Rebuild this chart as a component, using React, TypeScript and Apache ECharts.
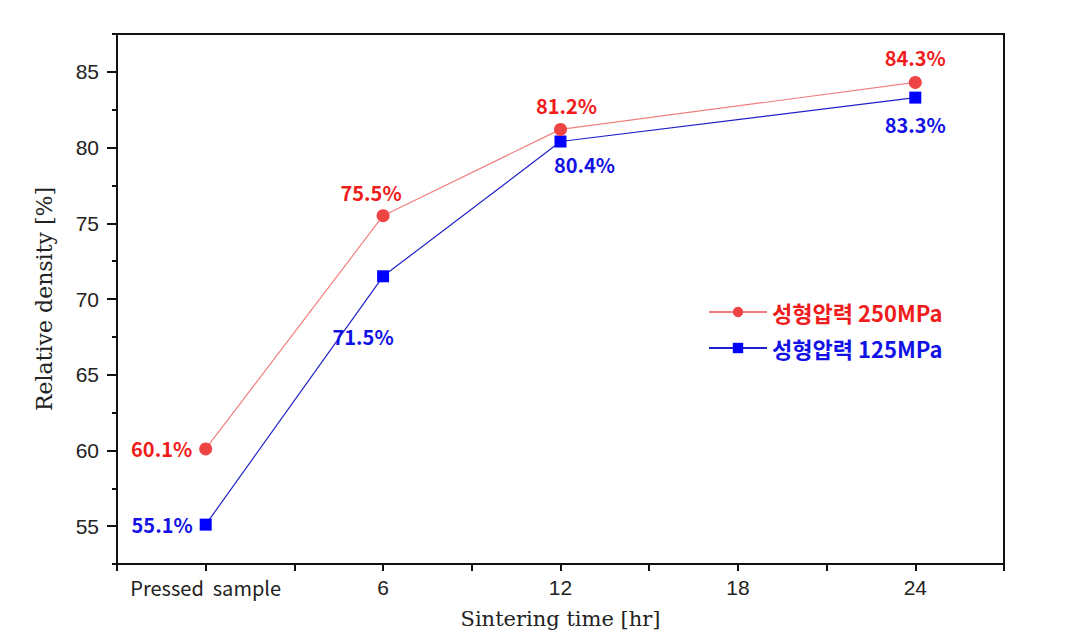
import React, { useEffect, useRef } from "react";
import * as echarts from "echarts";

const hours = [0, 6, 12, 24];
const series250 = [60.1, 75.5, 81.2, 84.3];
const series125 = [55.1, 71.5, 80.4, 83.3];
const seriesNames = ["성형압력 250MPa", "성형압력 125MPa"];
const xTickLabels: Record<number, string> = { 0: "{p|Pressed  sample}", 6: "6", 12: "12", 18: "18", 24: "24" };
const xLabelValues = [0, 6, 12, 18, 24];
const yMajor = [55, 60, 65, 70, 75, 80, 85];
const yMinor = [52.5, 57.5, 62.5, 67.5, 72.5, 77.5, 82.5, 87.5];
const xTicks = [-3, 0, 3, 6, 9, 12, 15, 18, 21, 24, 27];

const RED_TEXT = "#f01c1c";
const BLUE_TEXT = "#1212e6";

const labels250 = [
  { position: "left", distance: 7 },
  { position: "top", distance: 7, offset: [-12, 0] },
  { position: "top", distance: 7, offset: [6, 0] },
  { position: "top", distance: 8, offset: [0, 0] },
];
const labels125 = [
  { position: "left", distance: 7 },
  { position: "bottom", distance: 44, offset: [-20, 0] },
  { position: "bottom", distance: 7, offset: [24, 0] },
  { position: "bottom", distance: 11, offset: [0, 0] },
];

export default function App() {
  const ref = useRef<HTMLDivElement>(null);
  useEffect(() => {
    if (!ref.current) return;
    const chart = echarts.init(ref.current, null, { renderer: "svg" });
    const labelFont = {
      fontFamily: "Noto Sans CJK KR",
      fontWeight: "bold" as const,
      fontSize: 20,
    };
    const mk = (vals: number[], labs: any[], color: string) =>
      vals.map((v, i) => ({
        value: [hours[i], v],
        label: { show: true, ...labs[i], ...labelFont, color, formatter: v.toFixed(1) + "%" },
      }));
    chart.setOption({
      animation: false,
      backgroundColor: "#fff",
      grid: { left: 117, top: 34, right: 63, bottom: 77, show: true, borderColor: "#111", borderWidth: 2 },
      legend: {
        orient: "vertical",
        left: 703,
        top: 296,
        itemWidth: 58,
        itemHeight: 13,
        itemGap: 14,
        textStyle: { fontFamily: "Noto Sans CJK KR", fontWeight: "bold", fontSize: 22 },
        data: [
          { name: seriesNames[0], textStyle: { color: RED_TEXT } },
          { name: seriesNames[1], textStyle: { color: BLUE_TEXT } },
        ],
      },
      xAxis: {
        type: "value",
        min: -3,
        max: 27,
        name: "Sintering time [hr]",
        nameLocation: "middle",
        nameGap: 44,
        nameTextStyle: { fontFamily: "DejaVu Serif", fontSize: 21, color: "#222" },
        axisLine: { onZero: false, lineStyle: { color: "#111", width: 2 } },
        axisTick: { show: true, inside: false, length: 7, lineStyle: { color: "#111", width: 2 }, customValues: xTicks },
        axisLabel: {
          customValues: xLabelValues,
          margin: 13,
          fontFamily: "Liberation Sans",
          fontSize: 21,
          color: "#222",
          formatter: (v: number) => xTickLabels[v] ?? "",
          rich: { p: { fontFamily: "Noto Sans CJK KR", fontSize: 20, color: "#222" } },
        },
        splitLine: { show: false },
      },
      yAxis: [
        {
          type: "value",
          min: 52.5,
          max: 87.5,
          name: "Relative density [%]",
          nameLocation: "middle",
          nameGap: 62,
          nameTextStyle: { fontFamily: "DejaVu Serif", fontSize: 22, color: "#222" },
          axisLine: { show: true, onZero: false, lineStyle: { color: "#111", width: 2 } },
          axisTick: { show: true, inside: false, length: 10, lineStyle: { color: "#111", width: 2 }, customValues: yMajor },
          axisLabel: {
            customValues: yMajor,
            margin: 18,
            fontFamily: "Liberation Sans",
            fontSize: 21,
            color: "#222",
          },
          splitLine: { show: false },
        },
        {
          type: "value",
          position: "left",
          min: 52.5,
          max: 87.5,
          axisLine: { show: false, onZero: false },
          axisTick: { show: true, inside: false, length: 5, lineStyle: { color: "#111", width: 2 }, customValues: yMinor },
          axisLabel: { show: false },
          splitLine: { show: false },
        },
      ],
      series: [
        {
          name: seriesNames[0],
          type: "line",
          symbol: "circle",
          symbolSize: 13,
          itemStyle: { color: "#ee4444" },
          lineStyle: { color: "#f08080", width: 1.2 },
          data: mk(series250, labels250, RED_TEXT),
          z: 3,
        },
        {
          name: seriesNames[1],
          type: "line",
          symbol: "rect",
          symbolSize: 12,
          itemStyle: { color: "#0000ff" },
          lineStyle: { color: "#2020c8", width: 1.2 },
          data: mk(series125, labels125, BLUE_TEXT),
          z: 2,
        },
      ],
    });
    return () => chart.dispose();
  }, []);
  return (
    <div
      ref={ref}
      style={{ position: "fixed", left: 0, top: 0, width: 1067, height: 641, background: "#fff" }}
    />
  );
}
